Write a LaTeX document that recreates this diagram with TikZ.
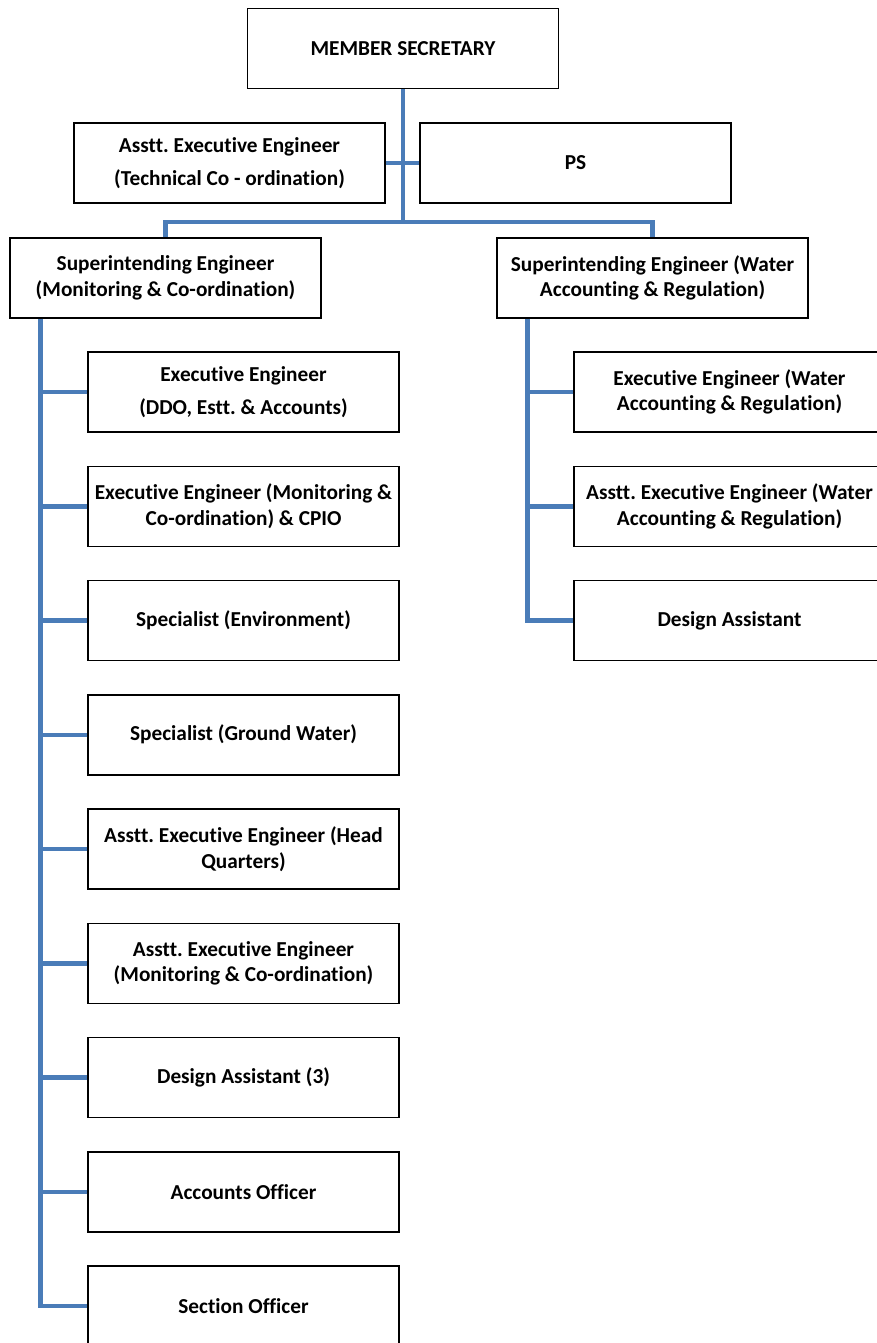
\documentclass[tikz,border=0pt]{standalone}
\usepackage{fontspec}
\setmainfont{Carlito}[Ligatures=NoCommon]
\usepackage{tikz}
\usetikzlibrary{positioning}

\definecolor{linkblue}{RGB}{74,124,184}
\frenchspacing

\begin{document}
\begin{tikzpicture}[x=1pt,y=-1pt,node distance=114.25pt,on grid,
    post/.style={draw,line width=1.5pt,minimum width=311pt,minimum height=80pt,
      inner sep=0pt,align=center,font=\bfseries\fontsize{21.3}{25.5}\selectfont},
    link/.style={draw=linkblue,line width=4.5pt}]
    \useasboundingbox (0,0) rectangle (877,1343);
    \node[post] (ms)   at (403,48.5)   {MEMBER SECRETARY};
    \node[post] (atec) at (229.5,163)  {Asstt. Executive Engineer\\[8pt](Technical Co - ordination)};
    \node[post] (ps)   at (575.5,163)  {PS};
    \node[post] (sem)  at (165.5,278)  {Superintending Engineer\\(Monitoring \& Co-ordination)};
    \node[post] (sew)  at (652.5,278)  {Superintending Engineer (Water\\Accounting \& Regulation)};
    % left column
    \node[post] (l1)   at (243.5,392)  {Executive Engineer\\[8pt](DDO, Estt. \& Accounts)};
    \node[post] (l2)   [below=of l1]   {Executive Engineer (Monitoring \&\\Co-ordination) \& CPIO};
    \node[post] (l3)   [below=of l2]   {Specialist (Environment)};
    \node[post] (l4)   [below=of l3]   {Specialist (Ground Water)};
    \node[post] (l5)   [below=of l4]   {Asstt. Executive Engineer (Head\\Quarters)};
    \node[post] (l6)   [below=of l5]   {Asstt. Executive Engineer\\(Monitoring \& Co-ordination)};
    \node[post] (l7)   [below=of l6]   {Design Assistant (3)};
    \node[post] (l8)   [below=of l7]   {Accounts Officer};
    \node[post] (l9)   [below=of l8]   {Section Officer};
    % right column
    \node[post] (r1)   at (729.5,392)  {Executive Engineer (Water\\Accounting \& Regulation)};
    \node[post] (r2)   [below=of r1]   {Asstt. Executive Engineer (Water\\Accounting \& Regulation)};
    \node[post] (r3)   [below=of r2]   {Design Assistant};
    \coordinate (bus) at (403,222);
    \coordinate (lspine) at ([xshift=31pt]sem.south west);
    \coordinate (rspine) at ([xshift=31pt]sew.south west);
    % top edges
    \path[link] (ms.south) -- (bus);
    \path[link] (atec.east) -- (ps.west);
    \path[link] (sem.north) -- (sem.north |- bus) -- (sew.north |- bus) -- (sew.north);
    % spines
    \path[link] (lspine) |- (l9.west);
    \path[link] (rspine) |- (r3.west);
    \foreach \n in {l1,l2,l3,l4,l5,l6,l7,l8}
      \path[link] (\n.west) -- (\n.west -| lspine);
    \foreach \n in {r1,r2}
      \path[link] (\n.west) -- (\n.west -| rspine);
\end{tikzpicture}
\end{document}
